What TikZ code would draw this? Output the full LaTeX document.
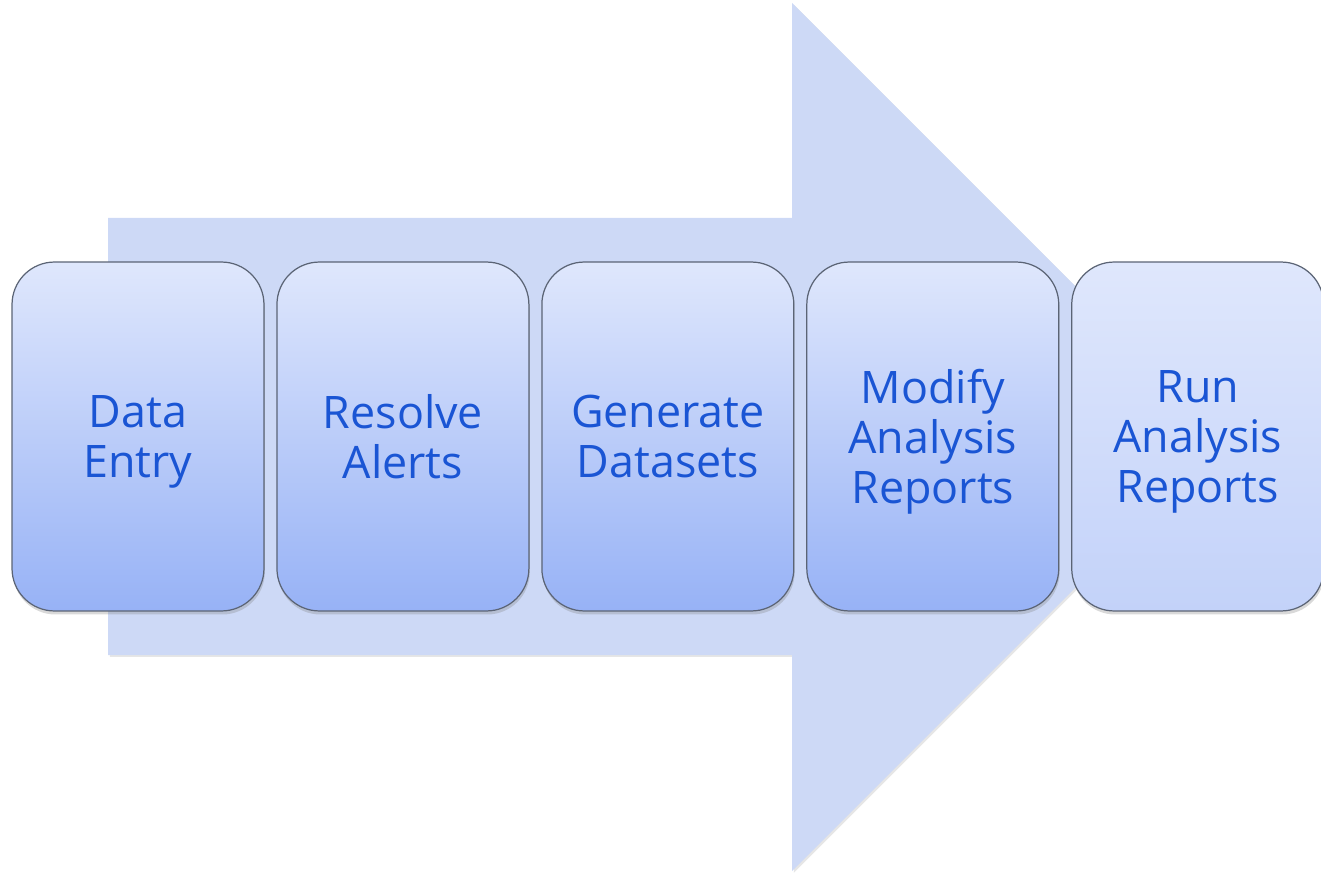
\documentclass[tikz,border=0pt]{standalone}
\usepackage{fontspec}
\setmainfont{Open Sans}
\usetikzlibrary{positioning,shadows}

\definecolor{arrowblue}{HTML}{CDD9F6}
\definecolor{boxtop}{HTML}{DFE7FC}
\definecolor{boxbot}{HTML}{97B2F6}
\definecolor{boxbotlight}{HTML}{C3D2F9}
\definecolor{textblue}{HTML}{1A55D4}
\definecolor{boxline}{HTML}{5B6475}

\tikzset{
    stage/.style={draw=boxline, line width=0.7pt, rounded corners=0.85cm,
        minimum width=5.04cm, minimum height=6.98cm,
        top color=boxtop, bottom color=boxbot,
        text=textblue, align=center, font=\fontsize{25.5}{28.5}\selectfont,
        text depth=0pt,
        drop shadow={opacity=0.3, shadow xshift=0.5pt, shadow yshift=-2pt}},
}

\begin{document}
\begin{tikzpicture}[x=0.02cm, y=-0.02cm]

    \useasboundingbox (0,0) rectangle (1321,874);

    % big arrow
    \fill[arrowblue, drop shadow={opacity=0.2, shadow xshift=1pt, shadow yshift=-1pt}]
        (108,218) -- (792,218) -- (792,3) -- (1226,437) -- (792,871) -- (792,655) -- (108,655) -- cycle;

    % steps
    \node[stage] (entry) at (138,436.5) {Data\\Entry};
    \node[stage, right=0.235cm of entry] (alerts) {Resolve\\Alerts};
    \node[stage, right=0.235cm of alerts] (datasets) {Generate\\Datasets};
    \node[stage, right=0.235cm of datasets] (modify) {Modify\\Analysis\\Reports};
    \node[stage, bottom color=boxbotlight, right=0.235cm of modify] (run) {Run\\Analysis\\Reports};

\end{tikzpicture}
\end{document}
